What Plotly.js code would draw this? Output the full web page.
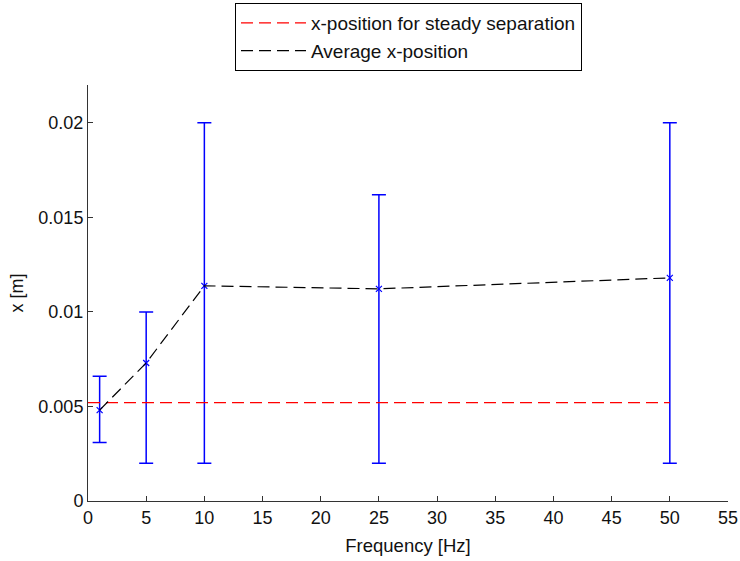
<!DOCTYPE html>
<html>
<head>
<meta charset="utf-8">
<script src="https://cdn.plot.ly/plotly-3.0.1.min.js"></script>
<style>html,body{margin:0;padding:0;background:#fff;}#chart{width:740px;height:561px;}</style>
</head>
<body>
<div id="chart"></div>
<script>
const freq = [1, 5, 10, 25, 50];
const avgX = [0.00481, 0.0073, 0.01138, 0.01122, 0.0118];
const upperX = [0.0066, 0.0100, 0.0200, 0.0162, 0.0200];
const lowerX = [0.0031, 0.0020, 0.0020, 0.0020, 0.0020];
const steadyFreq = [0, 50];
const steadyX = [0.0052, 0.0052];
const xTicks = [0, 5, 10, 15, 20, 25, 30, 35, 40, 45, 50, 55];
const yTicks = [0, 0.005, 0.01, 0.015, 0.02];
const yTickText = ['0', '0.005', '0.01', '0.015', '0.02'];

const errPlus = upperX.map((u, i) => u - avgX[i]);
const errMinus = avgX.map((a, i) => a - lowerX[i]);

const traces = [
  {
    x: freq, y: avgX, type: 'scatter', mode: 'markers', showlegend: false,
    marker: {symbol: 'x-thin-open', size: 6, color: '#0000ff', line: {color: '#0000ff', width: 1.2}},
    error_y: {type: 'data', symmetric: false, array: errPlus, arrayminus: errMinus,
              color: '#0000ff', thickness: 1.5, width: 7}
  },
  {
    x: steadyFreq, y: steadyX, type: 'scatter', mode: 'lines',
    name: 'x-position for steady separation',
    line: {color: '#ff0000', width: 1.2, dash: '12px,6px'}
  },
  {
    x: freq, y: avgX, type: 'scatter', mode: 'lines',
    name: 'Average x-position',
    line: {color: '#000000', width: 1.2, dash: '12px,6px'}
  }
];

const layout = {
  width: 740, height: 561,
  margin: {l: 88, r: 12, t: 85, b: 60, autoexpand: false},
  paper_bgcolor: '#ffffff', plot_bgcolor: '#ffffff',
  font: {family: 'Liberation Sans, Arial, sans-serif', size: 18, color: '#111'},
  showlegend: true,
  legend: {
    x: (235 - 88) / 640, y: 1 + (85 - 3) / 416, xanchor: 'left', yanchor: 'top',
    bordercolor: '#000', borderwidth: 1, bgcolor: '#fff',
    font: {size: 19, color: '#111'}, itemwidth: 65, tracegroupgap: 0
  },
  xaxis: {
    range: [0, 55], tickvals: xTicks, ticks: 'inside', ticklen: 5, tickcolor: '#333',
    ticklabeloverflow: 'allow',
    showline: true, linecolor: '#333', linewidth: 1, mirror: false, showgrid: false, zeroline: false,
    title: {text: 'Frequency [Hz]', standoff: 12, font: {size: 18.5}}
  },
  yaxis: {
    range: [0, 0.022], tickvals: yTicks, ticktext: yTickText, ticks: 'inside', ticklen: 5, tickcolor: '#333',
    showline: true, linecolor: '#333', linewidth: 1, mirror: false, showgrid: false, zeroline: false,
    title: {text: 'x [m]', standoff: 10, font: {size: 18}}
  }
};

Plotly.newPlot('chart', traces, layout, {displayModeBar: false, staticPlot: true});
</script>
</body>
</html>
